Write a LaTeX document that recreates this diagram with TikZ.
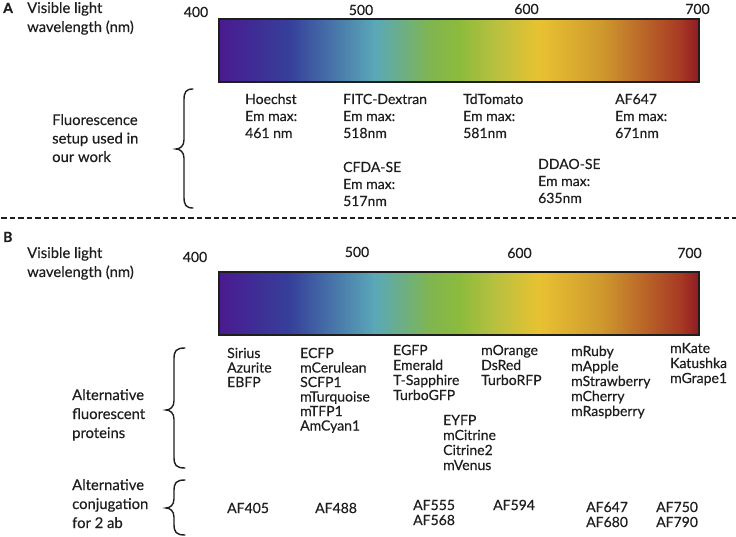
\documentclass[tikz,border=0pt]{standalone}
\usepackage{fontspec}
\setmainfont{Lato}[FakeBold=0.35]
\definecolor{s0}{HTML}{4A1A90}
\definecolor{s1}{HTML}{35409A}
\definecolor{s2}{HTML}{5AA8B8}
\definecolor{s3}{HTML}{80B550}
\definecolor{s4}{HTML}{8CBB3C}
\definecolor{s5}{HTML}{B8C040}
\definecolor{s6}{HTML}{E8C232}
\definecolor{s7}{HTML}{CF9A2E}
\definecolor{s8}{HTML}{A83A24}
\definecolor{s9}{HTML}{8E1B22}
\definecolor{ink}{HTML}{1E1E1E}
\pgfdeclarehorizontalshading{spectrum}{100bp}{color(0bp)=(s0); color(25bp)=(s0); color(32.4bp)=(s1); color(41.25bp)=(s2); color(47bp)=(s3); color(50bp)=(s4); color(53.75bp)=(s5); color(58.3bp)=(s6); color(64.7bp)=(s7); color(73bp)=(s8); color(75bp)=(s9); color(100bp)=(s9)}
\newcommand\txtlines[6][txt]{%
  \foreach \t [count=\k] in {#6} \node[#1] (#2\k) at (#3,{#4+(\k-1)*#5}) {\t};}
\newcommand\mybrace[6]{%
  \draw[bracestyle] (#1,#4) .. controls ({#2+2},#4) and (#2,{#4+3}) .. (#2,{#4+11})
    -- (#2,{#5-9}) .. controls (#2,{#5-3}) and ({#2-4},#5) .. (#3,#5)
    .. controls ({#2-4},#5) and (#2,{#5+3}) .. (#2,{#5+9})
    -- (#2,{#6-11}) .. controls (#2,{#6-3}) and ({#2+2},#6) .. (#1,#6);}
\begin{document}
\begin{tikzpicture}[x=1pt,y=-1pt,
  txt/.style={anchor=base west, inner sep=0pt, text=ink, font=\fontsize{14}{15}\selectfont},
  side/.style={anchor=base west, inner sep=0pt, text=ink, font=\fontsize{14.8}{16}\selectfont},
  num/.style={anchor=base, inner sep=0pt, text=ink, font=\fontsize{14}{15}\selectfont},
  panel/.style={anchor=base west, inner sep=0pt, text=ink, font=\fontsize{14}{15}\selectfont\bfseries},
  bar/.style={shading=spectrum, draw=ink, line width=1.2pt},
  bracestyle/.style={draw=ink, line width=1.4pt, line cap=round},
  sep/.style={draw=ink, line width=1.6pt, dash pattern=on 5.5pt off 3pt}]
\useasboundingbox (0,0) rectangle (736,537);
% ---------- Panel A ----------
\node[panel] (A) at (3,13) {A};
\txtlines[side]{vlA}{27}{13}{19}{Visible light,wavelength (nm)}
\node[num] (a400) at (196,17) {400};
\node[num] (a500) at (361,15) {500};
\node[num] (a600) at (526.5,14) {600};
\node[num] (a700) at (697.5,14) {700};
\shadedraw[bar] (219,19) rectangle (699,82);
\txtlines[side]{fl}{52}{125}{18.5}{Fluorescence,setup used in,our work}
\mybrace{193}{184}{176}{89}{149}{208}
\txtlines{ho}{245}{104}{17}{Hoechst,Em max:,461 nm}
\txtlines{fi}{343}{104}{17}{FITC-Dextran,Em max:,518nm}
\txtlines{td}{463}{104}{17}{TdTomato,Em max:,581nm}
\txtlines{af}{615}{104}{17}{AF647,Em max:,671nm}
\txtlines{cf}{343}{172}{17}{CFDA-SE,Em max:,517nm}
\txtlines{dd}{538}{169}{17}{DDAO-SE,Em max:,635nm}
% ---------- separator ----------
\draw[sep] (1,218) -- (736,218);
% ---------- Panel B ----------
\node[panel] (B) at (3,242) {B};
\txtlines[side]{vlB}{27}{258}{19}{Visible light,wavelength (nm)}
\node[num] (b400) at (195,262) {400};
\node[num] (b500) at (357,257) {500};
\node[num] (b600) at (519.5,258) {600};
\node[num] (b700) at (689.5,258) {700};
\shadedraw[bar] (219,272) rectangle (699,335);
\txtlines[side]{afp}{72}{400}{19}{Alternative,fluorescent,proteins}
\mybrace{185}{174}{166}{348}{410}{468}
\txtlines[side]{acj}{72}{490}{19}{Alternative,conjugation,for 2 ab}
\mybrace{185}{174}{166}{480}{508}{535}
\txtlines{c1}{227}{358}{14.5}{Sirius,Azurite,EBFP}
\txtlines{c2}{300}{358}{14.5}{ECFP,mCerulean,SCFP1,mTurquoise,mTFP1,AmCyan1}
\txtlines{c3}{393}{355}{15}{EGFP,Emerald,T-Sapphire,TurboGFP}
\txtlines{c4}{443}{425}{15}{EYFP,mCitrine,Citrine2,mVenus}
\txtlines{c5}{481}{355}{15}{mOrange,DsRed,TurboRFP}
\txtlines{c6}{571}{356}{15}{mRuby,mApple,mStrawberry,mCherry,mRaspberry}
\txtlines{c7}{670}{353}{15}{mKate,Katushka,mGrape1}
\node[txt] (d1) at (227,513) {AF405};
\node[txt] (d2) at (315,513) {AF488};
\txtlines{d3}{413}{510}{15}{AF555,AF568}
\node[txt] (d4) at (493,510) {AF594};
\txtlines{d5}{586}{512}{15}{AF647,AF680}
\txtlines{d6}{656}{512}{15}{AF750,AF790}
\end{tikzpicture}
\end{document}
